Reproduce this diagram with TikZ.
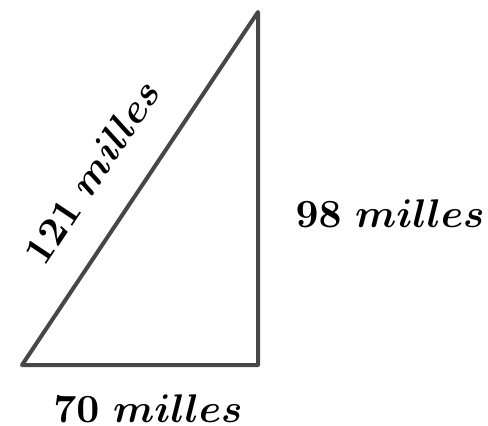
\documentclass[tikz,border=0pt]{standalone}
\usepackage{amsmath,bm}
\begin{document}
\begin{tikzpicture}[x=0.25pt,y=-0.25pt,
  side/.style={draw=black!72,line width=1pt,line join=round,line cap=round},
  lbl/.style={inner sep=0pt,font=\fontsize{10.2}{12}\selectfont}]
\useasboundingbox (0,0) rectangle (488,425);
\coordinate (A) at (22,365);
\coordinate (B) at (258,365);
\coordinate (C) at (258,12);
\draw[side] (A) -- (B) -- (C) -- cycle;
\node[lbl] (b) at (148,409) {$\mathbf{70}\ \bm{milles}$};
\node[lbl] (r) at (390,214) {$\mathbf{98}\ \bm{milles}$};
\node[lbl,rotate=56.2] (h) at (92,172) {$\mathbf{121}\ \bm{milles}$};
\end{tikzpicture}
\end{document}
